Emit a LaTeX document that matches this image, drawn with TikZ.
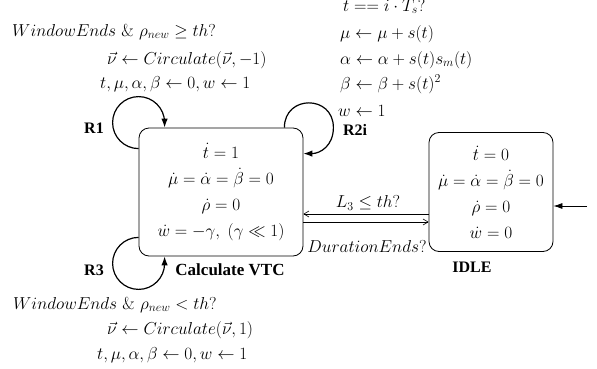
\documentclass[tikz,border=0pt]{standalone}
\usepackage{fontspec}
\newfontfamily\lblfont{Liberation Serif}
\usetikzlibrary{calc,arrows.meta}
\newcommand\mth{\fontsize{17.28}{26}\selectfont}
\begin{document}
\begin{tikzpicture}[x=1pt,y=1pt,
  statebox/.style={draw, line width=0.8pt, rounded corners=10pt, align=center, font=\mth, inner sep=0pt},
  lbl/.style={font=\lblfont\bfseries\fontsize{16}{18}\selectfont, inner sep=0pt},
  txt/.style={font=\mth, inner sep=0pt, anchor=base west},
  loopline/.style={line width=1.2pt, -{Latex[length=9pt,width=6.5pt]}},
  thinarrow/.style={line width=0.6pt, -{Straight Barb[length=5pt,width=6pt]}},
  inarrow/.style={line width=0.8pt, -{Latex[length=9pt,width=6pt]}}]
\useasboundingbox (0,0) rectangle (597,368);

% states
\node[statebox, minimum width=164pt, minimum height=128pt] (vtc) at (221,176)
  {$\dot{t}=1$\\ $\dot{\mu}=\dot{\alpha}=\dot{\beta}=0$\\ $\dot{\rho}=0$\\ $\dot{w}=-\gamma,\;(\gamma\ll 1)$};
\node[statebox, minimum width=124pt, minimum height=119pt] (idle) at (491,176)
  {$\dot{t}=0$\\ $\dot{\mu}=\dot{\alpha}=\dot{\beta}=0$\\ $\dot{\rho}=0$\\ $\dot{w}=0$};

% state labels
\node[lbl, font=\lblfont\bfseries\fontsize{17}{19}\selectfont] (vtclbl) at (230,98) {Calculate VTC};
\node[lbl] (idlelbl) at (472,101) {IDLE};
\node[lbl] (r1) at (94,240) {R1};
\node[lbl] (r2i) at (355,238) {R2i};
\node[lbl] (r3) at (94,98) {R3};

% loops
\draw[loopline] ($(vtc.north west)+(0,-21)$) arc[start angle=270, end angle=0, radius=26pt]
  -- ($(vtc.north west)+(26,0)$);
\draw[loopline] ($(vtc.south west)+(0,19)$) arc[start angle=90, end angle=360, radius=26pt]
  -- ($(vtc.south west)+(26,0)$);
\draw[loopline] ($(vtc.north east)+(-19,0)$) .. controls ($(vtc.north east)+(-19,33)$) and ($(vtc.north east)+(30,33)$) ..
  ($(vtc.north east)+(30,0)$) .. controls ($(vtc.north east)+(30,-18)$) and ($(vtc.north east)+(17,-26)$) ..
  ($(vtc.north east)+(0,-26)$);

% transitions between states
\draw[thinarrow] ($(idle.west)+(0,-22)$) -- ($(vtc.east)+(0,-22)$);
\draw[thinarrow] ($(vtc.east)+(0,-30)$) -- ($(idle.west)+(0,-30)$);
\node[font=\mth, inner sep=0pt] (l3) at (368,165) {$L_3\leq th?$};
\node[font=\mth, inner sep=0pt] (dur) at (367,122) {$DurationEnds?$};

% initial arrow
\coordinate (init) at (587,162);
\draw[inarrow] (init) -- (idle.east |- init);

% guard/update texts
\node[txt] (g1a) at (12,332) {$WindowEnds\ \&\ \rho_{new}\geq th?$};
\node[txt] (g1b) at (107,304) {$\vec{\nu}\leftarrow Circulate(\vec{\nu},-1)$};
\node[txt] (g1c) at (100,280) {$t,\mu,\alpha,\beta\leftarrow 0, w\leftarrow 1$};

\node[txt] (g2a) at (343,357) {$t==i\cdot T_s?$};
\node[txt] (g2b) at (340,330) {$\mu\leftarrow \mu+s(t)$};
\node[txt] (g2c) at (340,304) {$\alpha\leftarrow \alpha+s(t)s_m(t)$};
\node[txt] (g2d) at (340,279) {$\beta\leftarrow \beta+s(t)^2$};
\node[txt] (g2e) at (338,252) {$w\leftarrow 1$};

\node[txt] (g3a) at (13,59) {$WindowEnds\ \&\ \rho_{new}< th?$};
\node[txt] (g3b) at (107,34) {$\vec{\nu}\leftarrow Circulate(\vec{\nu},1)$};
\node[txt] (g3c) at (97,9) {$t,\mu,\alpha,\beta\leftarrow 0, w\leftarrow 1$};
\end{tikzpicture}
\end{document}
